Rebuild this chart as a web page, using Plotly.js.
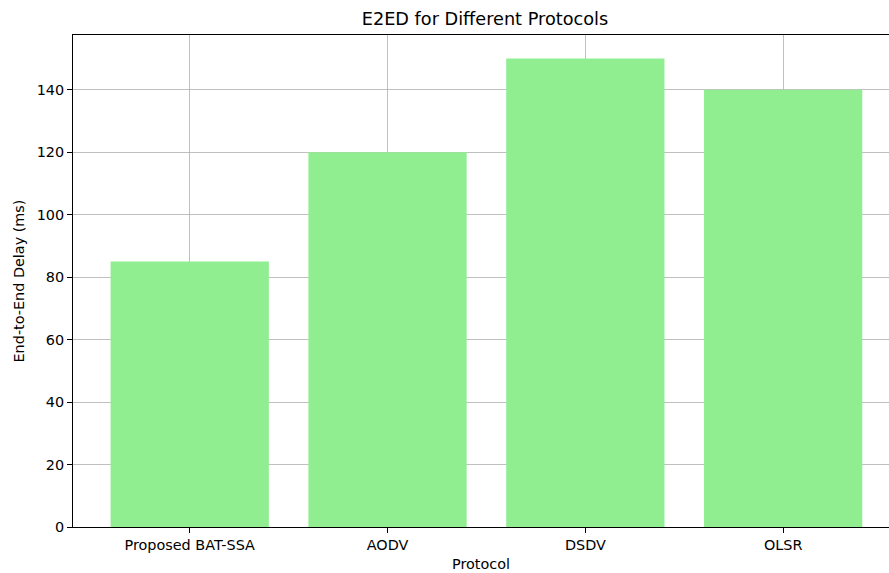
<!DOCTYPE html>
<html>
<head>
<meta charset="utf-8">
<script src="https://cdn.plot.ly/plotly-3.0.1.min.js"></script>
<style>html,body{margin:0;padding:0;background:#fff;}#chart{width:889px;height:573px;}</style>
</head>
<body>
<div id="chart"></div>
<script>
const protocols = ["Proposed BAT-SSA", "AODV", "DSDV", "OLSR"];
const delays = [85, 120, 150, 140];
const yTicks = [0, 20, 40, 60, 80, 100, 120, 140];

const font = {family: "DejaVu Sans, sans-serif", color: "#000", size: 14.4};

Plotly.newPlot("chart", [{
  type: "bar",
  x: [0, 1, 2, 3],
  y: delays,
  width: 0.8,
  marker: {color: "#90EE90", line: {width: 0}},
  hoverinfo: "none"
}], {
  width: 889, height: 573,
  margin: {l: 73, r: 0, t: 35, b: 46},
  paper_bgcolor: "#fff", plot_bgcolor: "#fff",
  font: font,
  showlegend: false,
  title: {text: "E2ED for Different Protocols", font: {family: font.family, size: 17.7, color: "#000"}, x: 0.5455, xanchor: "center", y: 0.967, yanchor: "middle"},
  xaxis: {
    range: [-0.59, 3.535],
    tickvals: [0, 1, 2, 3],
    ticktext: protocols,
    showgrid: true, gridcolor: "#b0b0b0", gridwidth: 0.8,
    showline: true, linecolor: "#000", linewidth: 1, mirror: true,
    ticks: "outside", ticklen: 5, tickcolor: "#000",
    zeroline: false,
    automargin: false,
    title: {text: "Protocol", font: font, standoff: 6},
    layer: "below traces"
  },
  yaxis: {
    range: [0, 157.5],
    tickvals: yTicks,
    showgrid: true, gridcolor: "#b0b0b0", gridwidth: 0.8,
    showline: true, linecolor: "#000", linewidth: 1,
    ticks: "outside", ticklen: 5, tickcolor: "#000",
    zeroline: false,
    automargin: false,
    title: {text: "End-to-End Delay (ms)", font: font, standoff: 8}
  }
}, {staticPlot: true});
</script>
</body>
</html>
